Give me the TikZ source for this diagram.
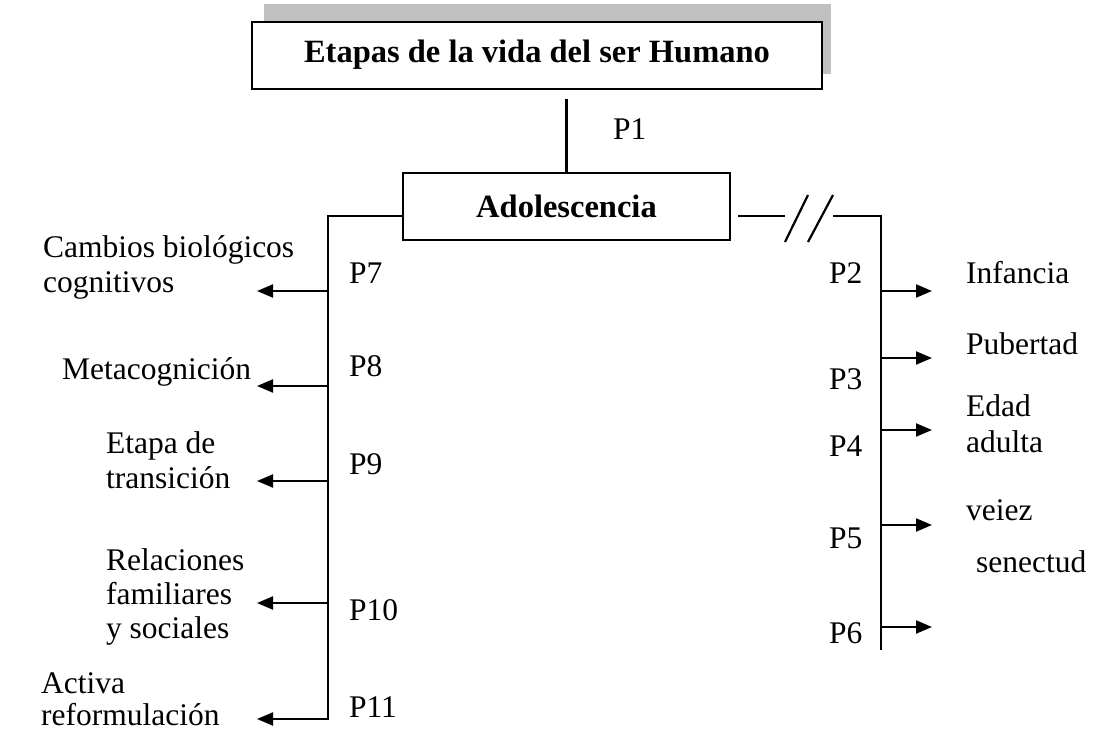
\documentclass[tikz,border=0pt]{standalone}
\usepackage{fontspec}
\setmainfont{Liberation Serif}
\usetikzlibrary{arrows.meta,backgrounds}

\definecolor{shadowgray}{RGB}{192,192,192}

\begin{document}
\begin{tikzpicture}[x=1pt,y=-1pt,line width=2.2pt,
  every node/.style={inner sep=0pt,font=\fontsize{31.5}{35}\selectfont},
  stagebox/.style={draw=black,fill=white,line width=2pt,minimum width=#1,minimum height=67pt,font=\fontsize{32.5}{36}\selectfont\bfseries},
  branch/.style={-{Triangle[length=16pt,width=13pt]}},
  lbl/.style={anchor=base west,align=left}]
  \useasboundingbox (0,0) rectangle (1096,731);

  % cajas
  \node [stagebox=570pt] (title) at (537,55) {Etapas de la vida del ser Humano};
  \begin{scope}[on background layer]
    \fill [shadowgray] ([xshift=13pt,yshift=16pt]title.south west) rectangle ([xshift=8pt,yshift=17pt]title.north east);
  \end{scope}
  \node [stagebox=327pt] (adol) at (566.5,206) {Adolescencia};

  \draw ([yshift=-9pt]title.south -| adol.north) -- (adol.north);
  \node [lbl] (p1) at (612,139) {P1};

  % rama izquierda
  \coordinate (ltop) at (328,216);
  \coordinate (lbot) at (328,720);
  \draw (ltop -| adol.west) -- (ltop) -- (lbot);
  \foreach \n/\y in {7/291,8/386,9/481,10/603,11/719}{
    \coordinate (lj\n) at (328,\y);
    \coordinate (le\n) at (257,\y);
    \draw [branch] (lj\n) -- (le\n);
  }
  \node [lbl] (p7) at (348,283) {P7};
  \node [lbl] (p8) at (348,376) {P8};
  \node [lbl] (p9) at (348,474) {P9};
  \node [lbl] (p10) at (348,620) {P10};
  \node [lbl] (p11) at (348,717) {P11};

  \node [lbl] (cambios) at (42,257) {Cambios biológicos};
  \node [lbl] (cognitivos) at (42,292) {cognitivos};
  \node [lbl] (meta) at (61,379) {Metacognición};
  \node [lbl] (etapa) at (105,453) {Etapa de};
  \node [lbl] (transicion) at (105,488) {transición};
  \node [lbl] (relaciones) at (105,570) {Relaciones};
  \node [lbl] (familiares) at (105,604) {familiares};
  \node [lbl] (sociales) at (105,638) {y sociales};
  \node [lbl] (activa) at (40,693) {Activa};
  \node [lbl] (reform) at (40,725) {reformulación};

  % rama derecha (con corte)
  \coordinate (rtop) at (881,216);
  \coordinate (rbot) at (881,650);
  \coordinate (cut1) at (785,216);
  \coordinate (cut2) at (833,216);
  \draw ([xshift=7pt]ltop -| adol.east) -- (cut1);
  \draw ([yshift=-26pt]cut1) -- ([xshift=23pt,yshift=21pt]cut1);
  \draw ([xshift=23pt,yshift=-26pt]cut1) -- ([yshift=21pt]cut2);
  \draw (cut2) -- (rtop) -- (rbot);
  \foreach \n/\y in {2/291,3/358,4/430,5/525,6/627}{
    \coordinate (rj\n) at (881,\y);
    \coordinate (re\n) at (932,\y);
    \draw [branch] (rj\n) -- (re\n);
  }
  \node [lbl] (p2) at (828,283) {P2};
  \node [lbl] (p3) at (828,389) {P3};
  \node [lbl] (p4) at (828,456) {P4};
  \node [lbl] (p5) at (828,548) {P5};
  \node [lbl] (p6) at (828,643) {P6};

  \node [lbl] (infancia) at (965,283) {Infancia};
  \node [lbl] (pubertad) at (965,354) {Pubertad};
  \node [lbl] (edad) at (965,416) {Edad};
  \node [lbl] (adulta) at (965,452) {adulta};
  \node [lbl] (veiez) at (965,520) {veiez};
  \node [lbl] (senectud) at (975,572) {senectud};
\end{tikzpicture}
\end{document}
